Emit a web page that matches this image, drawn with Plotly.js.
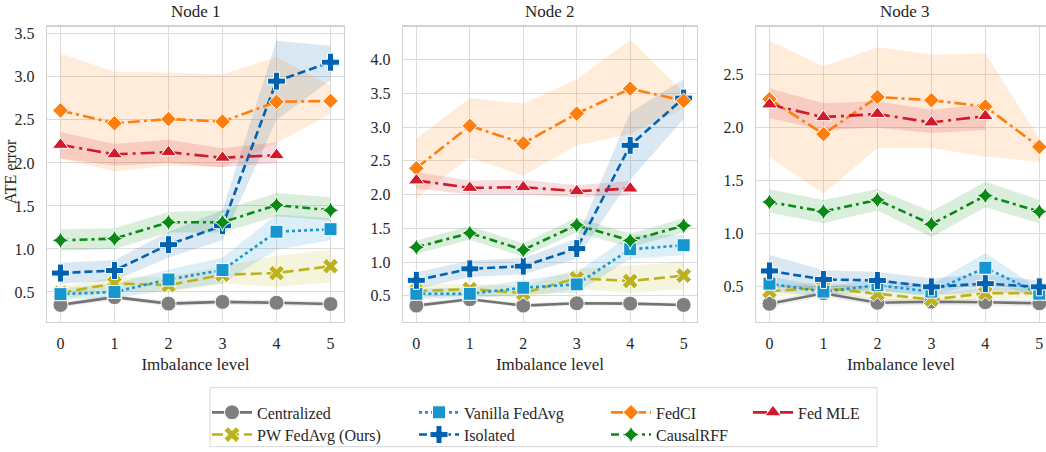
<!DOCTYPE html>
<html>
<head>
<meta charset="utf-8">
<script src="https://cdn.plot.ly/plotly-3.0.1.min.js"></script>
<style>
  html, body { margin: 0; padding: 0; background: #ffffff; }
  #chart { width: 1046px; height: 452px; }
</style>
</head>
<body>
<div id="chart"></div>
<script>
// Imbalance levels on the x axis
const levels = [0, 1, 2, 3, 4, 5];
const mleLevels = [0, 1, 2, 3, 4];
const nodeTitles = ['Node 1', 'Node 2', 'Node 3'];

// ---- Node 1: mean ATE error and the shaded interval (lo / hi) ----
const n1Centralized   = [0.35, 0.44, 0.365, 0.385, 0.375, 0.36];
const n1CentralizedLo = [0.32, 0.41, 0.335, 0.355, 0.345, 0.33];
const n1CentralizedHi = [0.38, 0.47, 0.395, 0.415, 0.405, 0.39];
const n1PW     = [0.49, 0.60, 0.58, 0.70, 0.72, 0.80];
const n1PWLo   = [0.42, 0.50, 0.50, 0.60, 0.56, 0.61];
const n1PWHi   = [0.56, 0.67, 0.68, 0.80, 0.92, 0.99];
const n1Vanilla   = [0.475, 0.50, 0.645, 0.755, 1.20, 1.23];
const n1VanillaLo = [0.42, 0.43, 0.52, 0.60, 0.99, 1.10];
const n1VanillaHi = [0.54, 0.60, 0.76, 0.90, 1.40, 1.36];
const n1Isolated   = [0.72, 0.75, 1.05, 1.27, 2.95, 3.17];
const n1IsolatedLo = [0.60, 0.63, 0.90, 1.10, 2.50, 2.96];
const n1IsolatedHi = [0.84, 0.87, 1.20, 1.45, 3.42, 3.36];
const n1FedCI   = [2.61, 2.46, 2.51, 2.48, 2.71, 2.72];
const n1FedCILo = [2.05, 1.90, 1.97, 1.95, 2.23, 2.57];
const n1FedCIHi = [3.27, 3.06, 3.05, 3.03, 3.23, 2.90];
const n1RFF   = [1.10, 1.12, 1.31, 1.31, 1.51, 1.45];
const n1RFFLo = [0.98, 1.00, 1.19, 1.19, 1.38, 1.33];
const n1RFFHi = [1.23, 1.24, 1.43, 1.45, 1.65, 1.60];
const n1MLE   = [2.21, 2.10, 2.125, 2.06, 2.09];
const n1MLELo = [2.05, 1.97, 2.00, 1.95, 2.00];
const n1MLEHi = [2.36, 2.22, 2.27, 2.17, 2.24];

// ---- Node 2 ----
const n2Centralized   = [0.355, 0.45, 0.355, 0.39, 0.385, 0.365];
const n2CentralizedLo = [0.325, 0.42, 0.325, 0.36, 0.355, 0.335];
const n2CentralizedHi = [0.385, 0.48, 0.385, 0.42, 0.415, 0.395];
const n2PW     = [0.57, 0.60, 0.54, 0.76, 0.72, 0.80];
const n2PWLo   = [0.48, 0.50, 0.47, 0.60, 0.55, 0.60];
const n2PWHi   = [0.66, 0.68, 0.64, 0.90, 0.95, 1.00];
const n2Vanilla   = [0.53, 0.53, 0.62, 0.67, 1.19, 1.25];
const n2VanillaLo = [0.46, 0.46, 0.52, 0.55, 1.05, 1.10];
const n2VanillaHi = [0.61, 0.62, 0.73, 0.85, 1.40, 1.40];
const n2Isolated   = [0.73, 0.90, 0.94, 1.20, 2.73, 3.43];
const n2IsolatedLo = [0.60, 0.78, 0.82, 1.05, 2.22, 3.12];
const n2IsolatedHi = [0.85, 1.02, 1.06, 1.35, 3.22, 3.71];
const n2FedCI   = [2.39, 3.02, 2.76, 3.20, 3.57, 3.39];
const n2FedCILo = [1.95, 2.55, 2.28, 2.73, 2.90, 3.28];
const n2FedCIHi = [2.83, 3.43, 3.35, 3.71, 4.29, 3.52];
const n2RFF   = [1.22, 1.43, 1.18, 1.55, 1.32, 1.54];
const n2RFFLo = [1.12, 1.33, 1.08, 1.44, 1.22, 1.44];
const n2RFFHi = [1.32, 1.53, 1.28, 1.66, 1.42, 1.65];
const n2MLE   = [2.21, 2.10, 2.11, 2.05, 2.09];
const n2MLELo = [2.09, 2.00, 2.00, 1.96, 1.99];
const n2MLEHi = [2.33, 2.21, 2.22, 2.14, 2.20];

// ---- Node 3 ----
const n3Centralized   = [0.34, 0.44, 0.35, 0.36, 0.355, 0.345];
const n3CentralizedLo = [0.31, 0.41, 0.32, 0.33, 0.325, 0.315];
const n3CentralizedHi = [0.37, 0.47, 0.38, 0.39, 0.385, 0.375];
const n3PW     = [0.46, 0.49, 0.435, 0.38, 0.44, 0.44];
const n3PWLo   = [0.41, 0.44, 0.385, 0.33, 0.39, 0.39];
const n3PWHi   = [0.51, 0.54, 0.485, 0.43, 0.49, 0.49];
const n3Vanilla   = [0.53, 0.455, 0.515, 0.455, 0.68, 0.435];
const n3VanillaLo = [0.46, 0.41, 0.46, 0.41, 0.56, 0.40];
const n3VanillaHi = [0.60, 0.50, 0.57, 0.52, 0.82, 0.48];
const n3Isolated   = [0.65, 0.57, 0.56, 0.50, 0.53, 0.50];
const n3IsolatedLo = [0.50, 0.46, 0.47, 0.42, 0.45, 0.43];
const n3IsolatedHi = [0.80, 0.66, 0.64, 0.58, 0.62, 0.56];
const n3FedCI   = [2.27, 1.94, 2.29, 2.26, 2.20, 1.82];
const n3FedCILo = [1.72, 1.38, 1.81, 1.81, 1.73, 1.68];
const n3FedCIHi = [2.82, 2.58, 2.76, 2.69, 2.70, 1.90];
const n3RFF   = [1.30, 1.21, 1.32, 1.09, 1.36, 1.21];
const n3RFFLo = [1.20, 1.10, 1.22, 0.97, 1.25, 1.10];
const n3RFFHi = [1.42, 1.32, 1.42, 1.21, 1.49, 1.32];
const n3MLE   = [2.22, 2.10, 2.13, 2.05, 2.11];
const n3MLELo = [2.09, 1.98, 2.00, 1.95, 1.98];
const n3MLEHi = [2.37, 2.23, 2.25, 2.17, 2.22];

// Per-node y ranges and tick values
const yRanges = [[0.152, 3.584], [0.113, 4.49], [0.169, 2.954]];
const yTicks  = [[0.5, 1.0, 1.5, 2.0, 2.5, 3.0, 3.5],
                 [0.5, 1.0, 1.5, 2.0, 2.5, 3.0, 3.5, 4.0],
                 [0.5, 1.0, 1.5, 2.0, 2.5]];

// Method styling (drawing order = legend order, column-wise); each entry has its own legend slot
const styles = [
  { name: 'Centralized',      key: 'Centralized', color: '#7f7f7f', line: '#737373', dash: 'solid',            symbol: 'circle',       size: 15, legend: 'legend',  col: 0, row: 0 },
  { name: 'PW FedAvg (Ours)', key: 'PW',          color: '#bcb21c', line: '#bcb21c', dash: '11px,5px',         symbol: 'x',            size: 14, legend: 'legend2', col: 0, row: 1 },
  { name: 'Vanilla FedAvg',   key: 'Vanilla',     color: '#1596cf', line: '#1596cf', dash: '3px,3px',          symbol: 'square',       size: 13, legend: 'legend3', col: 1, row: 0 },
  { name: 'Isolated',         key: 'Isolated',    color: '#0062b0', line: '#0062b0', dash: '8px,4px',          symbol: 'cross',        size: 15, legend: 'legend4', col: 1, row: 1 },
  { name: 'FedCI',            key: 'FedCI',       color: '#ff7f0e', line: '#ff7f0e', dash: '12px,4px,3px,4px', symbol: 'diamond',      size: 12, legend: 'legend5', col: 2, row: 0 },
  { name: 'CausalRFF',        key: 'RFF',         color: '#0a8a14', line: '#0a8a14', dash: '8px,4px,3px,4px',  symbol: 'star-diamond', size: 13, legend: 'legend6', col: 2, row: 1 },
  { name: 'Fed MLE',          key: 'MLE',         color: '#d11a2a', line: '#d11a2a', dash: '14px,5px,3px,5px', symbol: 'triangle-up',  size: 14, legend: 'legend7', col: 3, row: 0 }
];

// Lookup table built from the named arrays above
const series = {
  1: { Centralized: [n1Centralized, n1CentralizedLo, n1CentralizedHi], PW: [n1PW, n1PWLo, n1PWHi],
       Vanilla: [n1Vanilla, n1VanillaLo, n1VanillaHi], Isolated: [n1Isolated, n1IsolatedLo, n1IsolatedHi],
       FedCI: [n1FedCI, n1FedCILo, n1FedCIHi], RFF: [n1RFF, n1RFFLo, n1RFFHi], MLE: [n1MLE, n1MLELo, n1MLEHi] },
  2: { Centralized: [n2Centralized, n2CentralizedLo, n2CentralizedHi], PW: [n2PW, n2PWLo, n2PWHi],
       Vanilla: [n2Vanilla, n2VanillaLo, n2VanillaHi], Isolated: [n2Isolated, n2IsolatedLo, n2IsolatedHi],
       FedCI: [n2FedCI, n2FedCILo, n2FedCIHi], RFF: [n2RFF, n2RFFLo, n2RFFHi], MLE: [n2MLE, n2MLELo, n2MLEHi] },
  3: { Centralized: [n3Centralized, n3CentralizedLo, n3CentralizedHi], PW: [n3PW, n3PWLo, n3PWHi],
       Vanilla: [n3Vanilla, n3VanillaLo, n3VanillaHi], Isolated: [n3Isolated, n3IsolatedLo, n3IsolatedHi],
       FedCI: [n3FedCI, n3FedCILo, n3FedCIHi], RFF: [n3RFF, n3RFFLo, n3RFFHi], MLE: [n3MLE, n3MLELo, n3MLEHi] }
};

function hexToRgba(hex, a) {
  const v = parseInt(hex.slice(1), 16);
  return 'rgba(' + ((v >> 16) & 255) + ',' + ((v >> 8) & 255) + ',' + (v & 255) + ',' + a + ')';
}

const W = 1046, H = 452;
const px = x => x / W;          // pixel -> paper x
const py = y => 1 - y / H;      // pixel -> paper y

const FONT = 'Liberation Serif';
const TEXT = '#262626';
const GRID = '#dcdcdc';
const EDGE = '#d2d2d2';

const traces = [];
const bandTraces = [];
for (let n = 1; n <= 3; n++) {
  const xa = n === 1 ? 'x' : 'x' + n;
  const ya = n === 1 ? 'y' : 'y' + n;
  styles.forEach(s => {
    const [mean, lo, hi] = series[n][s.key];
    const xs = s.key === 'MLE' ? mleLevels : levels;
    // shaded interval
    bandTraces.push({
      type: 'scatter', mode: 'lines', xaxis: xa, yaxis: ya,
      x: xs.concat(xs.slice().reverse()),
      y: hi.concat(lo.slice().reverse()),
      fill: 'toself', fillcolor: hexToRgba(s.color, 0.15),
      line: { width: 0, color: 'rgba(0,0,0,0)' },
      hoverinfo: 'skip', showlegend: false
    });
    // mean line with markers
    traces.push({
      type: 'scatter', mode: 'lines+markers', xaxis: xa, yaxis: ya,
      x: xs, y: mean, name: s.name,
      legend: s.legend, showlegend: n === 1,
      line: { color: s.line, width: 2.6, dash: s.dash },
      marker: { symbol: s.symbol, size: s.size, color: s.color, line: { color: '#ffffff', width: 1 } },
      cliponaxis: true
    });
  });
}

// Panel placement in pixels
const panelX = [[47, 344], [403, 697], [756, 1046]];
const xRanges = [[-0.25, 5.25], [-0.25, 5.25], [-0.25, 5.124]];
const panelTop = 27.5, panelBottom = 333;

const layout = {
  width: W, height: H,
  margin: { l: 0, r: 0, t: 0, b: 0, pad: 0 },
  paper_bgcolor: '#ffffff', plot_bgcolor: '#ffffff',
  font: { family: FONT, color: TEXT, size: 16 },
  hovermode: false,
  annotations: [],
  shapes: [{
    type: 'rect', xref: 'paper', yref: 'paper', layer: 'below',
    x0: px(210), x1: px(877), y0: py(462), y1: py(401),
    line: { color: '#d6d6d6', width: 1 }, fillcolor: 'rgba(255,255,255,0)'
  }]
};

for (let i = 0; i < 3; i++) {
  const sfx = i === 0 ? '' : String(i + 1);
  const yName = i === 0 ? 'y' : 'y' + (i + 1);
  const xName = i === 0 ? 'x' : 'x' + (i + 1);
  layout['xaxis' + sfx] = {
    domain: [px(panelX[i][0]), px(panelX[i][1])],
    anchor: yName, range: xRanges[i], tickvals: levels,
    showgrid: true, gridcolor: GRID, gridwidth: 1, zeroline: false,
    showline: true, linecolor: EDGE, linewidth: 1.2, mirror: true,
    ticks: '', ticklabelstandoff: 7,
    tickfont: { family: FONT, size: 16, color: TEXT },
    title: { text: 'Imbalance level', font: { family: FONT, size: 17, color: TEXT }, standoff: 6 },
    automargin: false, fixedrange: true
  };
  layout['yaxis' + sfx] = {
    domain: [py(panelBottom), py(panelTop)],
    anchor: xName, range: yRanges[i], tickvals: yTicks[i],
    tickformat: '.1f',
    showgrid: true, gridcolor: GRID, gridwidth: 1, zeroline: false,
    showline: true, linecolor: EDGE, linewidth: 1.2, mirror: true,
    ticks: '', ticklabelstandoff: 8,
    tickfont: { family: FONT, size: 16, color: TEXT },
    automargin: false, fixedrange: true
  };
  layout.annotations.push({
    text: nodeTitles[i], xref: 'paper', yref: 'paper',
    x: px((panelX[i][0] + (i === 2 ? 1053 : panelX[i][1])) / 2), y: py(12),
    xanchor: 'center', yanchor: 'middle', showarrow: false,
    font: { family: FONT, size: 17, color: TEXT }
  });
}

// y-axis label of the first panel, close to the figure edge
layout.annotations.push({
  text: 'ATE error', xref: 'paper', yref: 'paper', x: px(10), y: py(178),
  xanchor: 'center', yanchor: 'middle', textangle: -90, showarrow: false,
  font: { family: FONT, size: 16, color: TEXT }
});

// Legend grid: four columns, two rows, one single-entry legend per slot
const legendColX = [207, 414, 606, 748];
const legendRowY = [409, 432];
styles.forEach(s => {
  layout[s.legend] = {
    orientation: 'v', xanchor: 'left', yanchor: 'top', itemwidth: 40,
    bgcolor: 'rgba(0,0,0,0)', borderwidth: 0,
    x: px(legendColX[s.col]), y: py(legendRowY[s.row]),
    font: { family: FONT, size: 16, color: TEXT }
  };
});

Plotly.newPlot('chart', bandTraces.concat(traces), layout, { displayModeBar: false, staticPlot: true });
</script>
</body>
</html>
